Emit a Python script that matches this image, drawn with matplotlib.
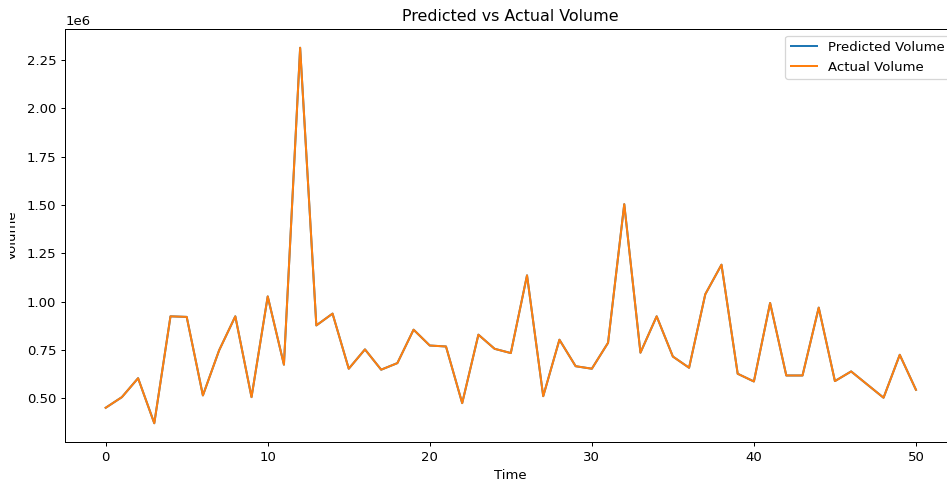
import matplotlib
matplotlib.use("Agg")
import matplotlib.pyplot as plt
from matplotlib.transforms import Bbox

time_idx = list(range(51))
actual_volume = [
    452e3, 507e3, 605e3, 372e3, 925e3, 922e3, 516e3, 749e3, 925e3, 507e3,
    1028e3, 675e3, 2314e3, 878e3, 939e3, 654e3, 754e3, 649e3, 683e3, 856e3,
    774e3, 769e3, 476e3, 830e3, 757e3, 735e3, 1137e3, 512e3, 804e3, 667e3,
    654e3, 788e3, 1505e3, 737e3, 925e3, 717e3, 659e3, 1039e3, 1192e3, 628e3,
    588e3, 994e3, 619e3, 619e3, 970e3, 590e3, 640e3, 572e3, 504e3, 726e3,
    545e3,
]
predicted_volume = list(actual_volume)

plt.rcParams["font.size"] = 10.6
plt.rcParams["lines.linewidth"] = 1.6

DPI = 90
fig = plt.figure(figsize=(947 / DPI, 479 / DPI), dpi=DPI)
ax = fig.add_axes([0.0688, 0.0772, 0.9412, 0.8623])

ax.plot(time_idx, predicted_volume, label="Predicted Volume")
ax.plot(time_idx, actual_volume, label="Actual Volume")
ax.set_title("Predicted vs Actual Volume")
ax.set_xlabel("Time")
ylab = ax.set_ylabel("Volume", labelpad=6)
ax.legend(loc="upper right")

# Mimic the cropped screenshot: the y-label is cut off at the left edge
ylab.set_clip_box(Bbox.from_extents(10, -100, 2000, 2000))
ylab.set_clip_on(True)

fig.savefig("out.png", dpi=DPI)
